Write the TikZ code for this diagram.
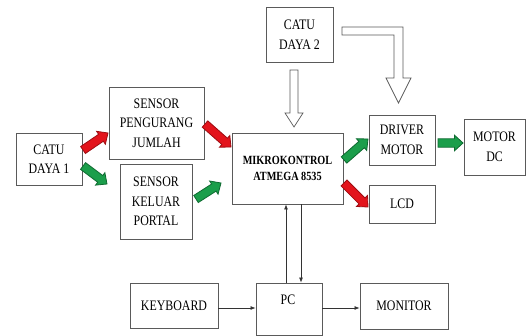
\documentclass[tikz,border=0pt]{standalone}
\usepackage{fontspec}
\setmainfont[FakeStretch=0.82]{Liberation Serif}
\usetikzlibrary{calc,arrows.meta}
\definecolor{bxline}{HTML}{5A5A5A}
\definecolor{ared}{HTML}{E3141C}
\definecolor{aredd}{HTML}{9E0D12}
\definecolor{agreen}{HTML}{1B9E4B}
\definecolor{agreend}{HTML}{0E6A30}
\tikzset{
  box/.style={draw=bxline, line width=0.9pt, fill=white, inner sep=0pt, align=center,
    font=\fontsize{14.5}{19.5}\selectfont},
  hollow/.style={draw=bxline, line width=0.7pt, fill=white, line join=miter},
  thin/.style={draw=black!80, line width=0.7pt, -{Latex[length=5pt,width=4pt]}},
  blk/.style={line width=0.8pt, line join=miter}
}
% block arrow: colour fill, outline colour, from, to
\newcommand\barrow[4]{%
  \draw[blk, fill=#1, draw=#2]
    ($(#3)!4.2pt!90:(#4)$) --
    ($($(#4)!8.5pt!(#3)$)!4.2pt!-90:(#3)$) --
    ($($(#4)!8.5pt!(#3)$)!7.8pt!-90:(#3)$) --
    (#4) --
    ($($(#4)!8.5pt!(#3)$)!7.8pt!90:(#3)$) --
    ($($(#4)!8.5pt!(#3)$)!4.2pt!90:(#3)$) --
    ($(#3)!4.2pt!-90:(#4)$) -- cycle;}
\begin{document}
\begin{tikzpicture}[x=1pt,y=-1pt]
\useasboundingbox (0,0) rectangle (526,336);
\fill[white] (0,0) rectangle (526,336);
% boxes
\node[box, minimum width=66pt, minimum height=52pt] (cd1) at (49,159) {CATU\\DAYA 1};
\node[box, minimum width=95pt, minimum height=72pt] (spj) at (156.5,123) {SENSOR\\PENGURANG\\JUMLAH};
\node[box, minimum width=72pt, minimum height=75pt] (skp) at (156,201.5) {SENSOR\\KELUAR\\PORTAL};
\node[box, minimum width=111pt, minimum height=71pt, font=\bfseries\fontsize{12.5}{16}\selectfont] (mcu) at (287.5,168.5) {MIKROKONTROL\\ATMEGA 8535};
\node[box, minimum width=67pt, minimum height=55pt] (cd2) at (299.5,34.5) {CATU\\DAYA 2};
\node[box, minimum width=66pt, minimum height=50pt] (drv) at (402,140) {DRIVER\\MOTOR};
\node[box, minimum width=61pt, minimum height=56pt] (mdc) at (494.5,147) {MOTOR\\DC};
\node[box, minimum width=66pt, minimum height=38pt] (lcd) at (402,204) {LCD};
\node[box, minimum width=88pt, minimum height=45pt] (kbd) at (174,305.5) {KEYBOARD};
\node[box, minimum width=66pt, minimum height=52pt] (pc) at (289,309) {};
\node[font=\fontsize{14.5}{19.5}\selectfont] (pct) at (288,300) {PC};
\node[box, minimum width=88pt, minimum height=46pt] (mon) at (404,306) {MONITOR};
% block arrow end points
\coordinate (r1a) at (83,150);  \coordinate (r1b) at (108,133);
\coordinate (g1a) at (83,166);  \coordinate (g1b) at (107,184);
\coordinate (r2a) at (205,124); \coordinate (r2b) at (231,147);
\coordinate (g2a) at (196,199); \coordinate (g2b) at (221,183);
\coordinate (g3a) at (344,160); \coordinate (g3b) at (368,139);
\coordinate (g4a) at (438,143); \coordinate (g4b) at (463,143);
\coordinate (r3a) at (344,183); \coordinate (r3b) at (368,207);
\barrow{ared}{aredd}{r1a}{r1b}
\barrow{agreen}{agreend}{g1a}{g1b}
\barrow{ared}{aredd}{r2a}{r2b}
\barrow{agreen}{agreend}{g2a}{g2b}
\barrow{agreen}{agreend}{g3a}{g3b}
\barrow{agreen}{agreend}{g4a}{g4b}
\barrow{ared}{aredd}{r3a}{r3b}
% hollow arrows from CATU DAYA 2
\draw[hollow] (290,70) -- (298,70) -- (298,113) -- (303,113) -- (294,127) -- (285,113) -- (290,113) -- cycle;
\draw[hollow] (342,27) -- (403,27) -- (403,78) -- (411,78) -- (398.5,103) -- (386,78) -- (394,78) -- (394,35) -- (342,35) -- cycle;
% thin connectors
\draw[thin] (pc.north -| 286,0) -- (mcu.south -| 286,0);
\draw[thin] (mcu.south -| 301,0) -- (pc.north -| 301,0);
\draw[thin] (kbd.east |- 0,308) -- (pc.west |- 0,308);
\draw[thin] (pc.east |- 0,308) -- (mon.west |- 0,308);
\end{tikzpicture}
\end{document}
